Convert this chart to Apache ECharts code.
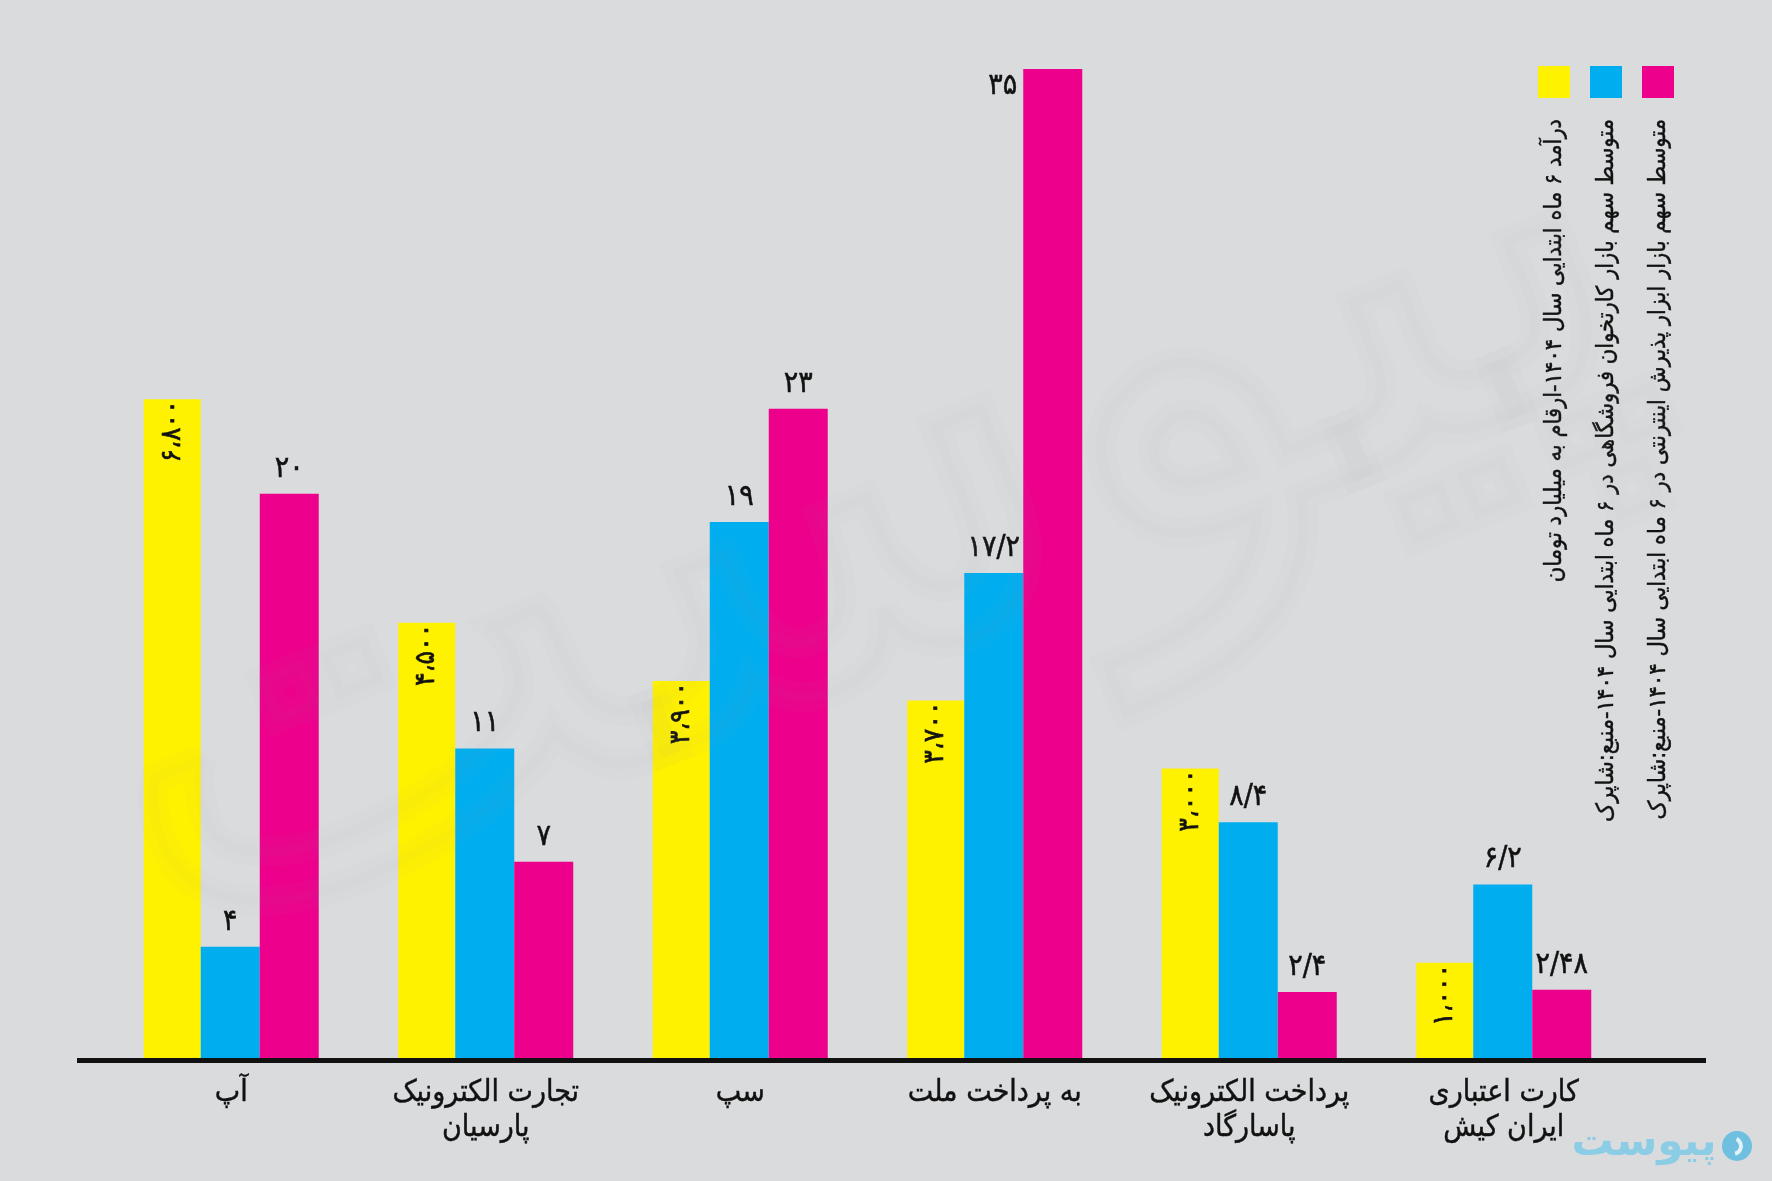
<!DOCTYPE html>
<html><head><meta charset="utf-8">
<style>html,body{margin:0;padding:0;background:#DADBDD}#c{width:1772px;height:1181px}canvas{direction:rtl}</style>
<script src="https://cdn.jsdelivr.net/npm/echarts@6/dist/echarts.min.js"></script>
</head><body><div id="c"></div>
<script>
const categories = ['آپ','تجارت الکترونیک\nپارسیان','سپ','به پرداخت ملت','پرداخت الکترونیک\nپاسارگاد','کارت اعتباری\nایران کیش'];
const income = [6800,4500,3900,3700,3000,1000];
const terminalShare = [4,11,19,17.2,8.4,6.2];
const onlineShare = [20,7,23,35,2.4,2.48];
const legendTexts = [
 'درآمد ۶ ماه ابتدایی سال ۱۴۰۴-ارقام به میلیارد تومان',
 'متوسط سهم بازار کارتخوان فروشگاهی در ۶ ماه ابتدایی سال ۱۴۰۴-منبع:شاپرک',
 'متوسط سهم بازار ابزار پذیرش اینترنتی در ۶ ماه ابتدایی سال ۱۴۰۴-منبع:شاپرک'];
const colors = ['#FFF200','#00AEEF','#EC008C'];
const font = '"DejaVu Sans Condensed","DejaVu Sans",sans-serif';
const ink = '#111';
const fa = s => String(s).replace(/\d/g,d=>'۰۱۲۳۴۵۶۷۸۹'[d]);
const faInt = v => fa(String(v).replace(/\B(?=(\d{3})+$)/g,'،'));
const faDec = v => fa(String(v).replace('.','/'));
const chart = echarts.init(document.getElementById('c'),null,{renderer:'canvas'});
const legendGraphic = [];
[1538,1590,1642].forEach((x,i)=>{
  legendGraphic.push({type:'rect',left:x,top:66,shape:{width:32,height:32},style:{fill:colors[i]}});
  legendGraphic.push({type:'text',x:x+17,y:119,rotation:Math.PI/2,
    style:{text:legendTexts[i],font:'23.5px '+font,fill:ink,stroke:ink,lineWidth:0.4,align:'right',verticalAlign:'middle'}});
});
const mark = (lw,a)=>({type:'text',z:30,silent:true,x:860,y:520,rotation:0.38,
  style:{text:'پیوست',font:'550px "DejaVu Sans"',align:'center',verticalAlign:'middle',fill:'transparent',stroke:'rgba(150,150,155,'+a+')',lineWidth:lw}});
const valueLabel = {show:true,position:'top',distance:10,fontFamily:font,fontSize:30,color:ink,textBorderColor:ink,textBorderWidth:0.5,formatter:p=>faDec(p.value)};
chart.setOption({
  backgroundColor:'#DADBDD',
  animation:false,
  grid:[{left:104,width:1527,top:69,height:991},{left:77,width:1629,top:69,height:991}],
  xAxis:[{type:'category',data:categories,gridIndex:0,axisLine:{show:false},axisTick:{show:false},
    axisLabel:{interval:0,margin:16,fontFamily:font,fontSize:30,lineHeight:35,color:ink,textBorderColor:ink,textBorderWidth:0.4,verticalAlign:'top'}},
    {type:'value',gridIndex:1,min:0,max:1,z:20,splitLine:{show:false},axisTick:{show:false},axisLabel:{show:false},
     axisLine:{show:true,onZero:false,lineStyle:{color:ink,width:5,cap:'butt'}}}],
  yAxis:[{type:'value',min:0,max:10200,show:false,gridIndex:0},{type:'value',min:0,max:35,show:false,gridIndex:0},
         {type:'value',min:0,max:1,show:false,gridIndex:1}],
  graphic:{elements:[...legendGraphic, mark(30,0.03), mark(10,0.03),
    {type:'text',x:1644,y:1144,style:{text:'پیوست',font:'bold 42px "DejaVu Sans"',fill:'#8CCDE6',align:'center',verticalAlign:'middle'}},
    {type:'circle',shape:{cx:1737,cy:1146,r:15},style:{fill:'#6EBFE0'}},
    {type:'arc',shape:{cx:1733,cy:1146,r:8,startAngle:-1.1,endAngle:1.3},style:{fill:'transparent',stroke:'#E4F2F8',lineWidth:4}}
  ]},
  series:[
   {name:legendTexts[0],type:'bar',xAxisIndex:0,yAxisIndex:0,barWidth:57,barGap:0,itemStyle:{color:colors[0]},data:income,
    label:{show:true,position:'insideTop',rotate:90,align:'right',verticalAlign:'middle',distance:1,fontFamily:font,fontSize:28,color:ink,textBorderColor:ink,textBorderWidth:0.6,formatter:p=>faInt(p.value)}},
   {name:legendTexts[1],type:'bar',xAxisIndex:0,yAxisIndex:1,barWidth:59,barGap:0,itemStyle:{color:colors[1]},data:terminalShare,label:valueLabel},
   {name:legendTexts[2],type:'bar',xAxisIndex:0,yAxisIndex:1,barWidth:59,barGap:0,itemStyle:{color:colors[2]},
    data:onlineShare.map(v=>v===Math.max(...onlineShare)?{value:v,label:{position:[-6,17],align:'right',verticalAlign:'middle'}}:v),
    label:valueLabel}
  ]
});
</script></body></html>
